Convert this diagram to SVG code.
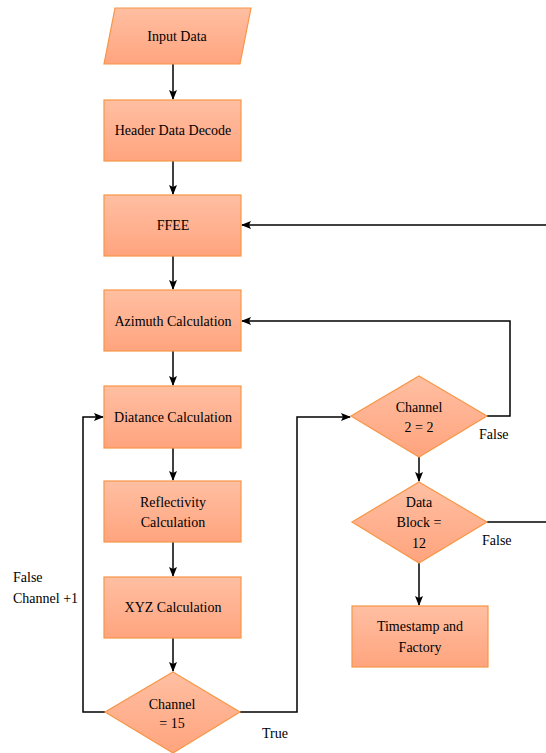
<svg xmlns="http://www.w3.org/2000/svg" width="546" height="753" viewBox="0 0 546 753">
  <defs>
    <linearGradient id="fillGrad" x1="0" y1="0" x2="0" y2="1">
      <stop offset="0" stop-color="#FFBFA2"/>
      <stop offset="1" stop-color="#FFA47E"/>
    </linearGradient>
    <marker id="arrow" markerWidth="10" markerHeight="8" refX="9" refY="4" orient="auto" markerUnits="userSpaceOnUse">
      <path d="M0,0 L10,4 L0,8 L2,4 Z" fill="#000"/>
    </marker>
  </defs>
  <style>
    .shape { fill: url(#fillGrad); stroke: #F79646; stroke-width: 1.2; }
    text { font-family: 'Liberation Serif', Tinos, 'DejaVu Serif', serif; font-size: 14px; fill: #000; }
    .label { text-anchor: middle; }
    .conn { fill: none; stroke: #000; stroke-width: 1.5; }
  </style>
  <rect width="546" height="753" fill="#fff"/>

  <g id="connectors">
    <line class="conn" x1="173" y1="64" x2="173" y2="99" marker-end="url(#arrow)"/>
    <line class="conn" x1="173" y1="161" x2="173" y2="194" marker-end="url(#arrow)"/>
    <line class="conn" x1="173" y1="256" x2="173" y2="289" marker-end="url(#arrow)"/>
    <line class="conn" x1="173" y1="351" x2="173" y2="385" marker-end="url(#arrow)"/>
    <line class="conn" x1="173" y1="448" x2="173" y2="480" marker-end="url(#arrow)"/>
    <line class="conn" x1="173" y1="542" x2="173" y2="576" marker-end="url(#arrow)"/>
    <line class="conn" x1="173" y1="638" x2="173" y2="671" marker-end="url(#arrow)"/>
    <!-- Channel = 15 false: loop back to distance calculation -->
    <polyline class="conn" points="105,712 83,712 83,417 103,417" marker-end="url(#arrow)"/>
    <!-- Channel = 15 true: go to channel 2 check -->
    <polyline class="conn" points="240,712 297,712 297,417 350,417" marker-end="url(#arrow)"/>
    <!-- Channel 2 = 2 false: back to azimuth -->
    <polyline class="conn" points="487,416 510,416 510,321 242,321" marker-end="url(#arrow)"/>
    <line class="conn" x1="419" y1="457" x2="419" y2="481" marker-end="url(#arrow)"/>
    <!-- Data block false: back to FFEE (routed past the right edge) -->
    <line class="conn" x1="487" y1="522" x2="546" y2="522"/>
    <line class="conn" x1="546" y1="225" x2="242" y2="225" marker-end="url(#arrow)"/>
    <line class="conn" x1="419" y1="563" x2="419" y2="605" marker-end="url(#arrow)"/>
  </g>

  <g id="input-data">
    <polygon class="shape" points="115,8 251,8 240,64 104,64"/>
    <text class="label" x="177" y="41">Input Data</text>
  </g>
  <g id="header-decode">
    <rect class="shape" x="104" y="100" width="137" height="61"/>
    <text class="label" x="173" y="135">Header Data Decode</text>
  </g>
  <g id="ffee">
    <rect class="shape" x="104" y="195" width="137" height="61"/>
    <text class="label" x="173" y="230">FFEE</text>
  </g>
  <g id="azimuth">
    <rect class="shape" x="104" y="290" width="137" height="61"/>
    <text class="label" x="173" y="326">Azimuth Calculation</text>
  </g>
  <g id="distance">
    <rect class="shape" x="104" y="386" width="137" height="62"/>
    <text class="label" x="173" y="422">Diatance Calculation</text>
  </g>
  <g id="reflectivity">
    <rect class="shape" x="104" y="481" width="137" height="61"/>
    <text class="label" x="173" y="507">Reflectivity</text>
    <text class="label" x="173" y="527">Calculation</text>
  </g>
  <g id="xyz">
    <rect class="shape" x="104" y="577" width="137" height="61"/>
    <text class="label" x="173" y="612">XYZ Calculation</text>
  </g>
  <g id="channel-15">
    <polygon class="shape" points="173,672 240,712 173,753 105,712"/>
    <text class="label" x="172" y="709">Channel</text>
    <text class="label" x="172" y="728">= 15</text>
  </g>
  <g id="channel-2">
    <polygon class="shape" points="419,376 487,416 419,457 351,416"/>
    <text class="label" x="419" y="412">Channel</text>
    <text class="label" x="419" y="432">2 = 2</text>
  </g>
  <g id="data-block">
    <polygon class="shape" points="419,482 487,522 419,563 352,522"/>
    <text class="label" x="419" y="507">Data</text>
    <text class="label" x="419" y="527">Block =</text>
    <text class="label" x="419" y="548">12</text>
  </g>
  <g id="timestamp">
    <rect class="shape" x="352" y="606" width="136" height="61"/>
    <text class="label" x="420" y="631">Timestamp and</text>
    <text class="label" x="420" y="652">Factory</text>
  </g>

  <g id="labels">
    <text x="479" y="439">False</text>
    <text x="482" y="545">False</text>
    <text x="262" y="738">True</text>
    <text x="13" y="582">False</text>
    <text x="13" y="603">Channel +1</text>
  </g>
</svg>
